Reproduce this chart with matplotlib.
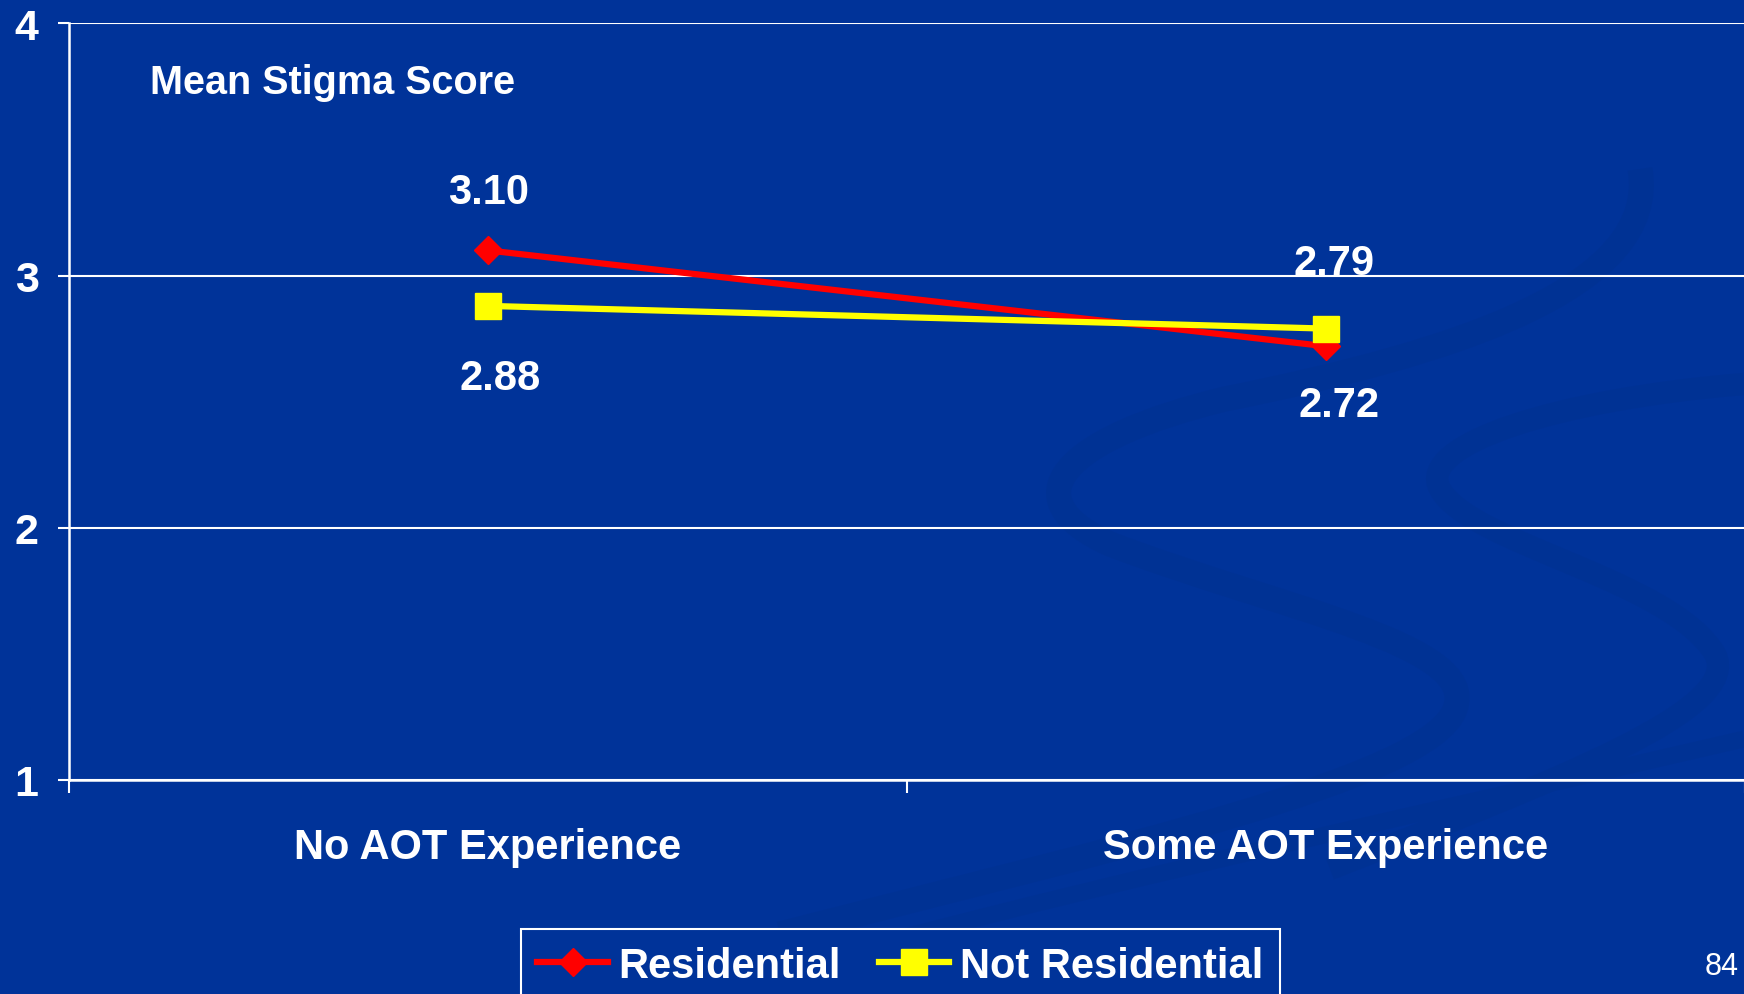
import numpy as np
import matplotlib
matplotlib.use('Agg')
import matplotlib.pyplot as plt
from matplotlib.path import Path
from matplotlib.patches import PathPatch

plt.rcParams['font.family'] = ['Liberation Sans', 'DejaVu Sans']

# Mean stigma score by AOT experience
groups = ['No AOT Experience', 'Some AOT Experience']
residential = [3.10, 2.72]
not_residential = [2.88, 2.79]
series_names = ['Residential', 'Not Residential']
y_ticks = [1, 2, 3, 4]

bg = '#003399'
W, H = 1744, 995

fig = plt.figure(figsize=(W / 100, H / 100), dpi=100, facecolor=bg)

# faint slide-template swooshes behind the chart (pixel coords, y down)
def swoosh(pts, lw):
    verts = [(px / W, 1 - py / H) for px, py in pts]
    codes = [Path.MOVETO] + [Path.CURVE4] * (len(verts) - 1)
    fig.patches.append(PathPatch(Path(verts, codes), transform=fig.transFigure,
                                 fill=False, ec='#003294', lw=lw,
                                 capstyle='butt', zorder=-5))

swoosh([(1640, 170), (1660, 290), (1450, 355), (1225, 400),
        (1060, 440), (1010, 500), (1110, 545),
        (1280, 610), (1480, 645), (1455, 710),
        (1430, 780), (1110, 850), (780, 935)], 18)
swoosh([(1744, 385), (1560, 400), (1415, 445), (1440, 490),
        (1470, 545), (1670, 580), (1715, 655),
        (1744, 710), (1560, 780), (1330, 870)], 16)
swoosh([(1744, 740), (1400, 820), (1000, 905), (700, 995)], 12)

ax = fig.add_axes([0.0396, 0.2151, 0.961, 0.7603])
ax.set_facecolor('none')

x = np.arange(len(groups)) + 0.5

ax.plot(x, residential, color='#ff0000', lw=4.5, marker='D', ms=14,
        mec='#ff0000', label=series_names[0], zorder=3)
ax.plot(x, not_residential, color='#ffff00', lw=4.5, marker='s', ms=18.5,
        mec='#ffff00', label=series_names[1], zorder=4)

# value labels
lab = dict(color='white', fontsize=30, fontweight='bold', ha='center', va='center')
ax.annotate(f'{residential[0]:.2f}', (x[0], residential[0]), xytext=(0, 42),
            textcoords='offset points', **lab)
ax.annotate(f'{not_residential[0]:.2f}', (x[0], not_residential[0]), xytext=(9, -52),
            textcoords='offset points', **lab)
ax.annotate(f'{not_residential[1]:.2f}', (x[1], not_residential[1]), xytext=(6, 47),
            textcoords='offset points', **lab)
ax.annotate(f'{residential[1]:.2f}', (x[1], residential[1]), xytext=(9, -42),
            textcoords='offset points', **lab)

ax.set_xlim(0, len(groups))
ax.set_ylim(1, 4)
ax.set_yticks(y_ticks)
ax.set_yticklabels([str(t) for t in y_ticks])
ax.grid(axis='y', color='white', lw=1.5)
ax.set_axisbelow(True)

ax.set_xticks(np.arange(len(groups) + 1))
ax.set_xticklabels([])
ax.set_xticks(x, minor=True)
ax.set_xticklabels(groups, minor=True)
ax.tick_params(axis='x', which='major', length=9, width=1.5, color='white', direction='out')
ax.tick_params(axis='x', which='minor', length=0, pad=34, labelsize=30, labelcolor='white')
ax.tick_params(axis='y', length=8, width=1.5, color='white', pad=14,
               labelsize=31, labelcolor='white')
for t in ax.get_xticklabels(minor=True) + ax.get_yticklabels():
    t.set_fontweight('bold')

for s in ['top', 'right']:
    ax.spines[s].set_visible(False)
for s in ['left', 'bottom']:
    ax.spines[s].set_color('white')
    ax.spines[s].set_linewidth(1.8)

ax.text(0.048, 0.923, 'Mean Stigma Score', transform=ax.transAxes, color='white',
        fontsize=28.5, fontweight='bold', va='center', ha='left')

leg = fig.legend(loc='upper left', bbox_to_anchor=(0.2985, 0.0653), ncol=2,
                 frameon=True, fancybox=False, facecolor=bg, edgecolor='white',
                 framealpha=1, handlelength=1.7, handletextpad=0.25,
                 columnspacing=0.9, borderpad=0.4, borderaxespad=0,
                 prop={'size': 30, 'weight': 'bold'})
leg.get_frame().set_linewidth(1.5)
for t in leg.get_texts():
    t.set_color('white')

fig.text(0.987, 0.028, '84', color='white', fontsize=22, ha='center', va='center')

fig.savefig('out.png', dpi=100, facecolor=bg)
